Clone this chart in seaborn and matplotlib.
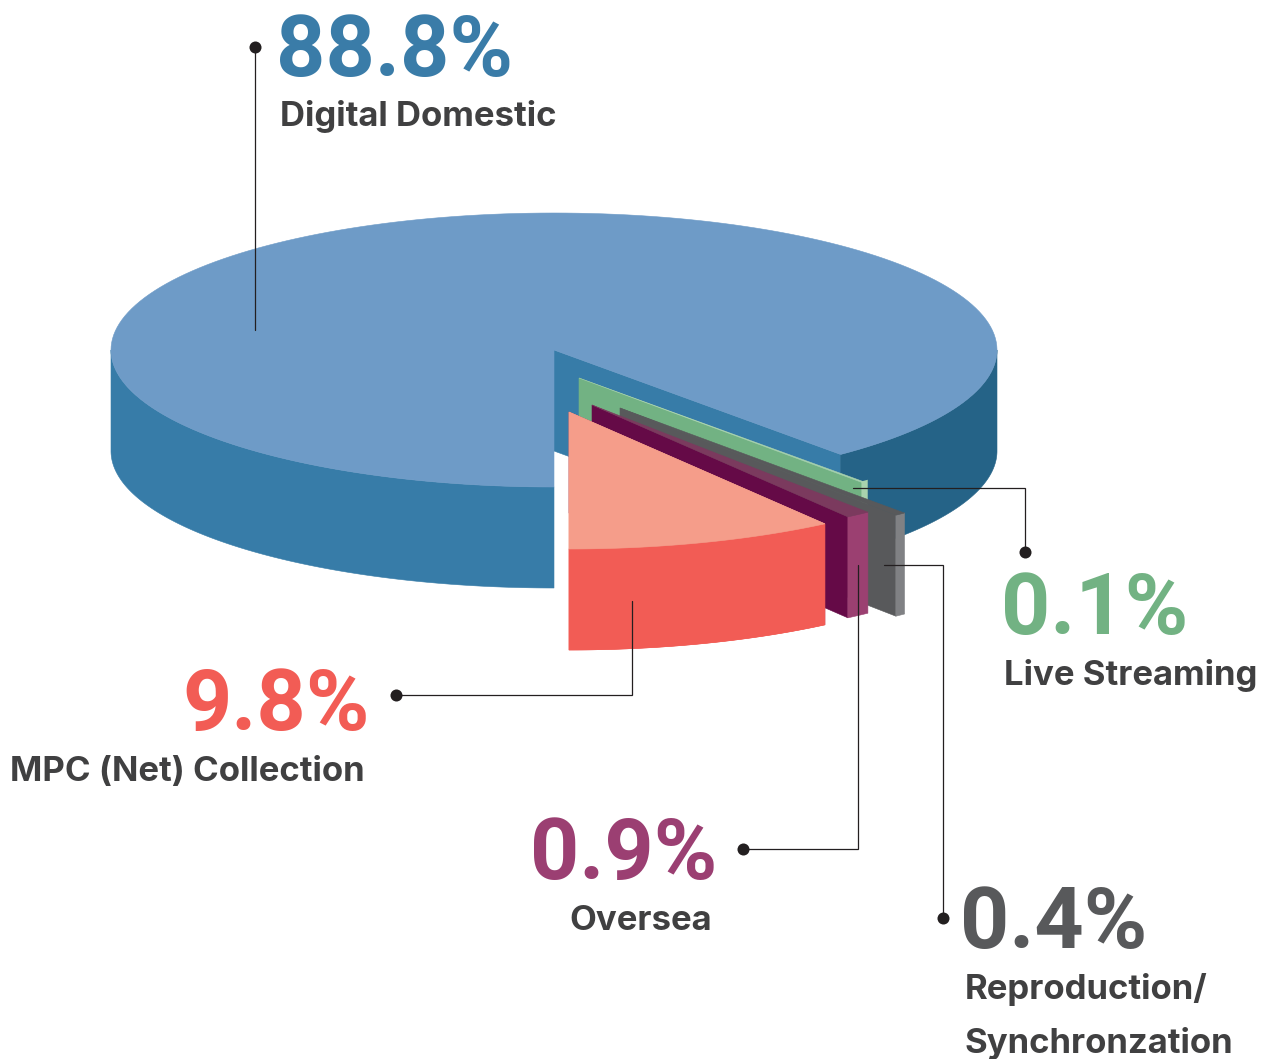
import numpy as np
import matplotlib
matplotlib.use('Agg')
import matplotlib.pyplot as plt
import seaborn as sns

# values, going from the south of the pie towards the east
categories = ['MPC (Net) Collection', 'Oversea', 'Reproduction/\nSynchronzation', 'Live Streaming', 'Digital Domestic']
shares = [9.8, 0.9, 0.4, 0.1, 88.8]
share_labels = ['9.8%', '0.9%', '0.4%', '0.1%', '88.8%']

# where each slice's apex sits once it is pulled out of the pie
apex_x = [569, 592, 620, 579, 554]
apex_y = [412, 405, 408, 378, 350]

top_colors = ['#F59D8A', '#7B3A5E', '#58595B', '#A9D3AE', '#6E9BC7']
face_colors = ['#650A47', '#650A47', '#58595B', '#72B283', '#377CA8']
side_colors = ['#F25C55', '#9B4071', '#808184', '#A9D3AE', '#377CA8']
text_colors = ['#F25C55', '#9B3F72', '#58595B', '#72B283', '#3A7CA8']
label_color = '#404041'

RX, RY, DEPTH = 443, 137, 101

sns.set_theme(style='white')
plt.rcParams['font.family'] = ['Inter', 'DejaVu Sans']

fig, ax = plt.subplots(figsize=(12.8, 10.59), dpi=100)
ax.set_position([0, 0, 1, 1])
ax.set_xlim(0, 1280)
ax.set_ylim(1059, 0)
ax.axis('off')
sns.despine(ax=ax, left=True, bottom=True)


def rim(x0, y0, t0, t1):
    t = np.radians(np.linspace(t0, t1, 200))
    return x0 + RX * np.sin(t), y0 + RY * np.cos(t)


def draw_side(x0, y0, t0, t1, color, z, lw=0.4):
    x, y = rim(x0, y0, t0, t1)
    ax.fill(np.r_[x, x[::-1]], np.r_[y, y[::-1] + DEPTH], color=color, lw=lw, zorder=z)


bounds = np.r_[0, np.cumsum(shares)] * 3.6
# blue first, red last, so nearer slices cover the ones behind them
draw_order = [4, 3, 2, 1, 0]
for z, i in enumerate(draw_order):
    x0, y0 = apex_x[i], apex_y[i]
    t0, t1 = bounds[i], bounds[i + 1]
    if i == 0:
        ex, ey = rim(x0, y0, t1, t1)
    else:
        ex, ey = rim(x0, y0, t0, t0)
    # cut face that looks at the viewer
    ax.fill([x0, ex[0], ex[0], x0], [y0, ey[0], ey[0] + DEPTH, y0 + DEPTH],
            color=face_colors[i], lw=0.4, zorder=z * 3)
    # outside wall
    if i == 4:
        draw_side(x0, y0, t0, 90, '#256387', z * 3 + 1)
        draw_side(x0, y0, 270, 360, side_colors[i], z * 3 + 1)
    elif i == 3:
        draw_side(x0, y0, t0, t1, side_colors[i], z * 3 + 1, lw=3)
    else:
        draw_side(x0, y0, t0, t1, side_colors[i], z * 3 + 1)
    # top surface
    x, y = rim(x0, y0, t0, t1)
    ax.fill(np.r_[x0, x], np.r_[y0, y], color=top_colors[i], lw=0.4, zorder=z * 3 + 2)

# the red slice shows its outside wall in front of its own cut face
x0, y0 = apex_x[0], apex_y[0]
draw_side(x0, y0, bounds[0], bounds[1], side_colors[0], 20)
x, y = rim(x0, y0, bounds[0], bounds[1])
ax.fill(np.r_[x0, x], np.r_[y0, y], color=top_colors[0], lw=0.4, zorder=21)

# leader lines, dot end first
leaders = [
    ([396, 632, 632], [695, 695, 601]),
    ([743, 858, 858], [849, 849, 565]),
    ([943, 943, 884], [918, 565, 565]),
    ([1025, 1025, 853], [552, 488, 488]),
    ([255, 255], [47, 330]),
]
for xs, ys in leaders:
    ax.plot(xs, ys, color='#231F20', lw=0.9, zorder=30, solid_joinstyle='miter')
    ax.scatter(xs[0], ys[0], s=75, color='#231F20', lw=0, zorder=31)

# number: x, baseline, alignment; label: x, baseline, alignment
number_pos = [(370, 730, 'right'), (717, 879, 'right'), (960, 948, 'left'), (1001, 634, 'left'), (276, 76, 'left')]
label_pos = [(365, 781, 'right'), (712, 930, 'right'), (965, 999, 'left'), (1004, 685, 'left'), (280, 126, 'left')]

for i in range(len(shares)):
    nx, ny, nha = number_pos[i]
    ax.text(nx, ny, share_labels[i], color=text_colors[i], fontsize=62, fontweight='bold',
            family=['Roboto', 'DejaVu Sans'], ha=nha, va='baseline', zorder=40)
    lx, ly, lha = label_pos[i]
    for k, line in enumerate(categories[i].split('\n')):
        ax.text(lx, ly + 54 * k, line, color=label_color, fontsize=25, fontweight='bold',
                ha=lha, va='baseline', zorder=40)

fig.savefig('out.png', dpi=100, facecolor='white')
